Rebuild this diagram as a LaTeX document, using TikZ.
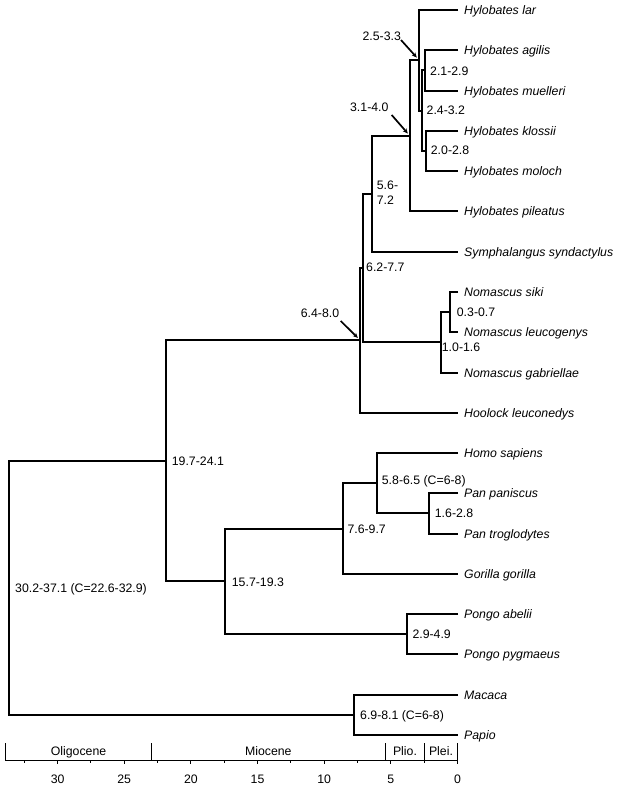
\documentclass[tikz,border=0pt]{standalone}
\usepackage{fontspec}
\setmainfont{Liberation Sans}
\usetikzlibrary{arrows.meta,calc}
\begin{document}
\begin{tikzpicture}[x=1bp,y=-1bp,
  br/.style={line width=2bp},
  axisline/.style={line width=1bp},
  arr/.style={line width=1.7bp,-{Stealth[length=5bp,width=4.5bp]}},
  tip/.style={anchor=west,inner sep=0pt,font=\fontsize{12.3bp}{14bp}\selectfont\itshape,text height=8.8bp,text depth=0pt},
  lab/.style={anchor=west,inner sep=0pt,font=\fontsize{12.3bp}{14bp}\selectfont,text height=8.8bp,text depth=0pt},
  clab/.style={anchor=center,inner sep=0pt,font=\fontsize{12.3bp}{14bp}\selectfont,text height=8.8bp,text depth=0pt}]
\fill[white] (0,0) rectangle (618,787);
\useasboundingbox (0,0) rectangle (618,787);

% tips
\foreach \n/\yy/\txt in {lar/10/Hylobates lar, agi/50/Hylobates agilis, mue/91/Hylobates muelleri,
  klo/131/Hylobates klossii, mol/171/Hylobates moloch, pil/211/Hylobates pileatus,
  sym/252/Symphalangus syndactylus, sik/292/Nomascus siki, leu/332/Nomascus leucogenys,
  gab/373/Nomascus gabriellae, hoo/413/Hoolock leuconedys, hom/453/Homo sapiens,
  ppa/493/Pan paniscus, ptr/534/Pan troglodytes, gor/574/Gorilla gorilla,
  pab/614/Pongo abelii, ppy/654/Pongo pygmaeus, mac/695/Macaca, pap/735/Papio}{
  \coordinate (t\n) at (458,\yy);
  \node[tip] (l\n) at (464,\yy) {\txt};
}

% internal nodes
\coordinate (I) at (425,70);
\coordinate (J) at (426,151);
\coordinate (H) at (422,111);
\coordinate (G) at (419,60);
\coordinate (F) at (410,136);
\coordinate (C) at (372,194);
\coordinate (E) at (450,312);
\coordinate (D) at (441,342);
\coordinate (B) at (363,268);
\coordinate (A) at (360,340);
\coordinate (Pn) at (429,513);
\coordinate (HP) at (377,483);
\coordinate (Af) at (343,529);
\coordinate (Po) at (407,634);
\coordinate (GA) at (225,581);
\coordinate (Hm) at (166,461);
\coordinate (MP) at (354,715);
\coordinate (R) at (9,588);

\draw[br] (tagi) -| (I) |- (tmue);
\draw[br] (tklo) -| (J) |- (tmol);
\draw[br] (I) -| (H) |- (J);
\draw[br] (tlar) -| (G) |- (H);
\draw[br] (G) -| (F) |- (tpil);
\draw[br] (F) -| (C) |- (tsym);
\draw[br] (tsik) -| (E) |- (tleu);
\draw[br] (E) -| (D) |- (tgab);
\draw[br] (C) -| (B) |- (D);
\draw[br] (B) -| (A) |- (thoo);
\draw[br] (tppa) -| (Pn) |- (tptr);
\draw[br] (thom) -| (HP) |- (Pn);
\draw[br] (HP) -| (Af) |- (tgor);
\draw[br] (tpab) -| (Po) |- (tppy);
\draw[br] (Af) -| (GA) |- (Po);
\draw[br] (A) -| (Hm) |- (GA);
\draw[br] (tmac) -| (MP) |- (tpap);
\draw[br] (Hm) -| (R) |- (MP);

% node labels
\node[lab] (nI) at (430,70.7) {2.1-2.9};
\node[lab] (nH) at (426.5,110.3) {2.4-3.2};
\node[lab] (nJ) at (430.7,150) {2.0-2.8};
\node[anchor=west,inner sep=0pt,align=left,font=\fontsize{12.3bp}{15bp}\selectfont] (nC) at (376.7,193) {5.6-\\7.2};
\node[lab] (nB) at (366,267.3) {6.2-7.7};
\node[lab] (nE) at (456.7,311.7) {0.3-0.7};
\node[lab] (nD) at (441.7,346.7) {1.0-1.6};
\node[lab] (nHm) at (171.7,461) {19.7-24.1};
\node[lab] (nGA) at (231.7,581.7) {15.7-19.3};
\node[lab] (nAf) at (347.3,529) {7.6-9.7};
\node[lab] (nHP) at (381.7,480) {5.8-6.5 (C=6-8)};
\node[lab] (nPn) at (434.7,513.3) {1.6-2.8};
\node[lab] (nPo) at (412.3,634) {2.9-4.9};
\node[lab] (nR) at (15,587.7) {30.2-37.1 (C=22.6-32.9)};
\node[lab] (nMP) at (360,715) {6.9-8.1 (C=6-8)};

% arrow labels
\node[clab] (aG) at (381.7,36) {2.5-3.3};
\node[clab] (aF) at (369.3,107.3) {3.1-4.0};
\node[clab] (aA) at (320,312.7) {6.4-8.0};
\coordinate (sG) at (401,40);
\coordinate (sF) at (391.7,115);
\coordinate (sA) at (340.7,321);
\draw[arr,shorten >=3.3bp] (sG) -- (G);
\draw[arr,shorten >=3.3bp] (sF) -- (F);
\draw[arr,shorten >=3bp] (sA) -- (A);

% time axis
\draw[axisline] (5.5,760.5) -- (457.5,760.5);
\foreach \x in {5.5,151.5,385.5,424.5,457.5}{
  \draw[axisline] (\x,743) -- (\x,760.5);
}
\foreach \t in {0,5,...,30}{
  \draw[axisline] ({457.5-13.33*\t},760.5) -- ++(0,3.3);
  \node[clab] at ({457.5-13.33*\t},779) {\t};
}
\foreach \t in {2.5,7.5,...,32.5}{
  \draw[axisline] ({457.5-13.33*\t},760.5) -- ++(0,2.2);
}
\node[clab] (ep1) at (78.5,751) {Oligocene};
\node[clab] (ep2) at (268.3,751) {Miocene};
\node[clab] (ep3) at (405,751) {Plio.};
\node[clab] (ep4) at (441,751) {Plei.};
\end{tikzpicture}
\end{document}
